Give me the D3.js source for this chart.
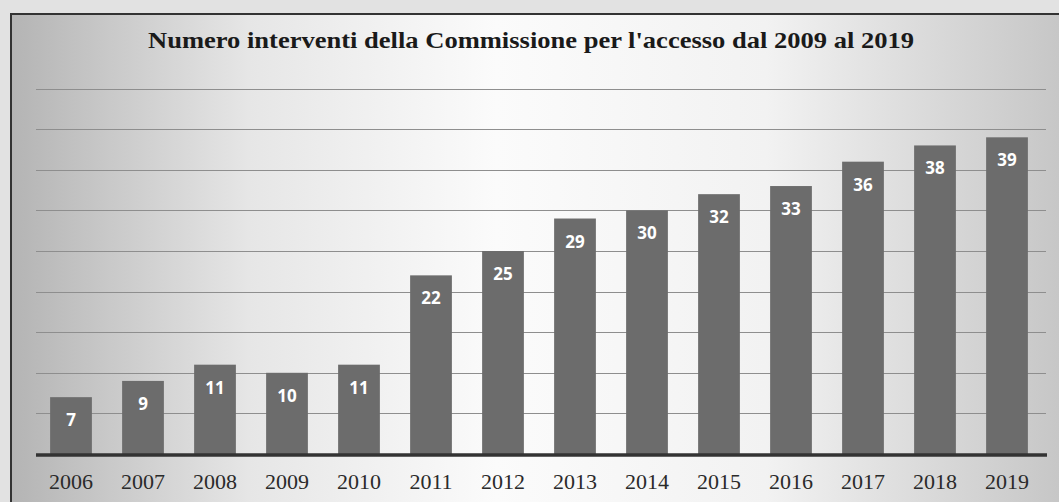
<!DOCTYPE html>
<html>
<head>
<meta charset="utf-8">
<script src="https://cdn.jsdelivr.net/npm/d3@7"></script>
<style>
  html, body { margin: 0; padding: 0; background: #e4e4e4; }
  svg { display: block; }
</style>
</head>
<body>
<div id="chart"></div>
<script>
var years = ["2006", "2007", "2008", "2009", "2010", "2011", "2012", "2013", "2014", "2015", "2016", "2017", "2018", "2019"];
var interventi = [7, 9, 11, 10, 11, 22, 25, 29, 30, 32, 33, 36, 38, 39];
var gridTicks = [5, 10, 15, 20, 25, 30, 35, 40, 45];
var titolo = "Numero interventi della Commissione per l'accesso dal 2009 al 2019";

var max = { x: 1059, y: 502 };

var svg = d3.select("#chart").append("svg")
    .attr("width", max.x)
    .attr("height", max.y);

// sfondo sfumato come nella fotocopia
var grad = svg.append("defs").append("linearGradient")
    .attr("id", "bg")
    .attr("x1", "0%").attr("x2", "100%")
    .attr("y1", "0%").attr("y2", "0%");
grad.append("stop").attr("offset", "0%").attr("stop-color", "#b4b4b4");
grad.append("stop").attr("offset", "22%").attr("stop-color", "#e6e6e6");
grad.append("stop").attr("offset", "45%").attr("stop-color", "#fbfbfb");
grad.append("stop").attr("offset", "70%").attr("stop-color", "#f2f2f2");
grad.append("stop").attr("offset", "100%").attr("stop-color", "#c2c2c2");

svg.append("rect")
    .attr("x", 0).attr("y", 0)
    .attr("width", max.x).attr("height", max.y)
    .attr("fill", "#e2e2e2");

svg.append("rect")
    .attr("x", 11).attr("y", 14)
    .attr("width", max.x + 20).attr("height", max.y)
    .attr("fill", "url(#bg)")
    .attr("stroke", "#333")
    .attr("stroke-width", 2);

var xScale = d3.scaleBand()
    .domain(years)
    .range([35, 1043])
    .paddingInner(0.42)
    .paddingOuter(0.21);

var yScale = d3.scaleLinear()
    .domain([0, 50])
    .range([454, 48]);

// griglia
svg.append("g")
    .selectAll("line")
    .data(gridTicks)
    .enter()
    .append("line")
    .attr("x1", 36)
    .attr("x2", 1046)
    .attr("y1", function(d) { return Math.round(yScale(d)) + 0.5; })
    .attr("y2", function(d) { return Math.round(yScale(d)) + 0.5; })
    .attr("stroke", "#8e8e8e")
    .attr("stroke-width", 1.2);

// barre
svg.append("g")
    .selectAll("rect")
    .data(interventi)
    .enter()
    .append("rect")
    .attr("x", function(d, i) { return xScale(years[i]); })
    .attr("y", function(d) { return yScale(d); })
    .attr("width", xScale.bandwidth())
    .attr("height", function(d) { return yScale(0) - yScale(d); })
    .attr("fill", "#6c6c6c");

// etichette valori
svg.append("g")
    .selectAll("text")
    .data(interventi)
    .enter()
    .append("text")
    .attr("x", function(d, i) { return xScale(years[i]) + xScale.bandwidth() / 2; })
    .attr("y", function(d) { return yScale(d) + 29; })
    .attr("text-anchor", "middle")
    .attr("font-family", "'Open Sans', 'Noto Sans', sans-serif")
    .attr("font-weight", "bold")
    .attr("font-size", "17px")
    .attr("fill", "#ffffff")
    .text(function(d) { return d; });

// asse x
var xAxis = svg.append("g")
    .attr("transform", "translate(0," + yScale(0) + ")")
    .call(d3.axisBottom(xScale).tickSize(0).tickPadding(19));
xAxis.select(".domain").remove();
xAxis.selectAll("text")
    .attr("font-family", "'Liberation Serif', 'DejaVu Serif', serif")
    .attr("font-size", "22px")
    .attr("fill", "#2a2a2a");

svg.append("line")
    .attr("x1", 36).attr("x2", 1047)
    .attr("y1", yScale(0) + 1).attr("y2", yScale(0) + 1)
    .attr("stroke", "#333")
    .attr("stroke-width", 3.5);

// titolo
svg.append("text")
    .attr("x", 531)
    .attr("y", 48)
    .attr("text-anchor", "middle")
    .attr("font-family", "'Liberation Serif', 'DejaVu Serif', serif")
    .attr("font-weight", "bold")
    .attr("font-size", "24px")
    .attr("textLength", 766)
    .attr("lengthAdjust", "spacingAndGlyphs")
    .attr("fill", "#1a1a1a")
    .text(titolo);
</script>
</body>
</html>
